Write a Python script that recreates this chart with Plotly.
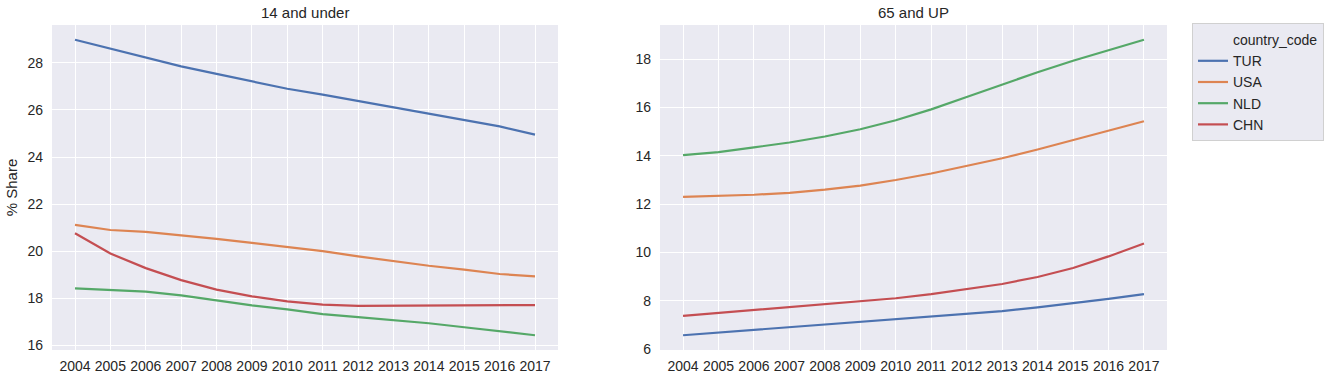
import plotly.graph_objects as go

years = list(range(2004, 2018))
countries = ["TUR", "USA", "NLD", "CHN"]
colors = ["#4C72B0", "#DD8452", "#55A868", "#C44E52"]

under14_TUR = [28.98, 28.6, 28.2, 27.85, 27.53, 27.2, 26.9, 26.65, 26.38, 26.13, 25.87, 25.58, 25.3, 24.95]
under14_USA = [21.12, 20.9, 20.82, 20.68, 20.52, 20.35, 20.18, 20.0, 19.78, 19.57, 19.38, 19.22, 19.03, 18.93]
under14_NLD = [18.42, 18.35, 18.28, 18.12, 17.9, 17.7, 17.53, 17.33, 17.2, 17.07, 16.94, 16.77, 16.61, 16.43]
under14_CHN = [20.76, 19.9, 19.28, 18.77, 18.37, 18.08, 17.87, 17.73, 17.68, 17.69, 17.71, 17.71, 17.73, 17.71]

up65_TUR = [6.58, 6.69, 6.8, 6.9, 7.01, 7.11, 7.22, 7.34, 7.45, 7.58, 7.73, 7.89, 8.08, 8.28]
up65_USA = [12.3, 12.33, 12.39, 12.47, 12.6, 12.77, 13.0, 13.27, 13.57, 13.9, 14.26, 14.64, 15.03, 15.43]
up65_NLD = [14.03, 14.15, 14.35, 14.55, 14.8, 15.1, 15.47, 15.92, 16.43, 16.95, 17.46, 17.93, 18.37, 18.8]
up65_CHN = [7.38, 7.5, 7.62, 7.73, 7.84, 7.96, 8.11, 8.28, 8.48, 8.7, 8.99, 9.36, 9.84, 10.37]

under14 = [under14_TUR, under14_USA, under14_NLD, under14_CHN]
up65 = [up65_TUR, up65_USA, up65_NLD, up65_CHN]

fig = go.Figure()
# legend header entry (seaborn style: title as an entry without handle)
fig.add_trace(go.Scatter(x=[None], y=[None], mode="lines", name="country_code",
                         line=dict(color="rgba(0,0,0,0)", width=2),
                         showlegend=True, hoverinfo="skip", xaxis="x2", yaxis="y2"))
for c, col, y in zip(countries, colors, under14):
    fig.add_trace(go.Scatter(x=years, y=y, mode="lines", name=c, legendgroup=c,
                             showlegend=False, line=dict(color=col, width=2.2),
                             xaxis="x", yaxis="y"))
for c, col, y in zip(countries, colors, up65):
    fig.add_trace(go.Scatter(x=years, y=y, mode="lines", name=c, legendgroup=c,
                             showlegend=True, line=dict(color=col, width=2.2),
                             xaxis="x2", yaxis="y2"))

font_color = "#262626"
axis_common = dict(showgrid=True, gridcolor="white", gridwidth=1, zeroline=False,
                   showline=False, ticks="", automargin=False,
                   tickfont=dict(size=14, color=font_color))

def yrange(series):
    lo = min(min(s) for s in series)
    hi = max(max(s) for s in series)
    pad = (hi - lo) * 0.05
    return [lo - pad, hi + pad]

xr = [years[0] - 0.05 * (years[-1] - years[0]), years[-1] + 0.05 * (years[-1] - years[0])]

W, H = 1336, 381
L, R, T, B = 52, W - 1167, 25, H - 350
pw = W - L - R
ph = H - T - B
def fx(px):
    return (px - L) / pw

fig.update_layout(
    width=W, height=H,
    margin=dict(l=L, r=R, t=T, b=B, autoexpand=False),
    paper_bgcolor="white",
    plot_bgcolor="#EAEAF2",
    font=dict(family="Liberation Sans, Arial, sans-serif", color=font_color, size=14),
    xaxis=dict(domain=[0, fx(558)], range=xr, tickmode="array", tickvals=years,
               ticktext=[str(y) for y in years], anchor="y", ticklabelstandoff=6, **axis_common),
    yaxis=dict(domain=[0, 1], range=yrange(under14), dtick=2, anchor="x", ticklabelstandoff=8,
               title=dict(text="% Share", font=dict(size=15), standoff=6), **axis_common),
    xaxis2=dict(domain=[fx(660), 1], range=xr, tickmode="array", tickvals=years,
                ticktext=[str(y) for y in years], anchor="y2", ticklabelstandoff=6, **axis_common),
    yaxis2=dict(domain=[0, 1], range=yrange(up65), dtick=2, anchor="x2", ticklabelstandoff=8,
                **axis_common),
    legend=dict(x=fx(1192), y=1 + 2 / ph, xanchor="left", yanchor="top",
                bgcolor="#EAEAF2", bordercolor="#D0D0D0", borderwidth=1,
                font=dict(size=14, color=font_color), itemwidth=30,
                tracegroupgap=0),
    annotations=[
        dict(text="14 and under", x=fx(305), y=1, xref="paper", yref="paper",
             xanchor="center", yanchor="bottom", yshift=2, showarrow=False,
             font=dict(size=15, color=font_color)),
        dict(text="65 and UP", x=fx(913), y=1, xref="paper", yref="paper",
             xanchor="center", yanchor="bottom", yshift=2, showarrow=False,
             font=dict(size=15, color=font_color)),
    ],
)

fig.write_html("out.html", config={"displayModeBar": False},
               post_script="document.body.style.margin='0';document.body.style.padding='0';document.body.style.overflow='hidden';")
